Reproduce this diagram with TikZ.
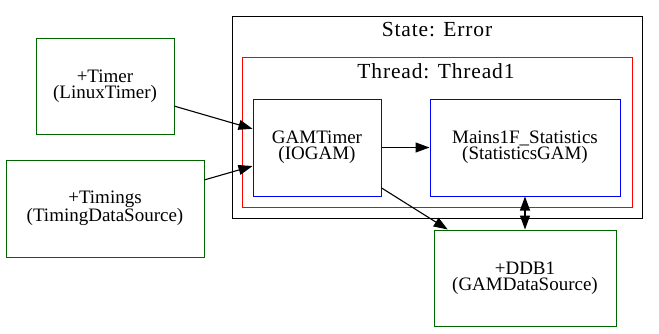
\documentclass[tikz,border=0pt]{standalone}
\usepackage{fontspec}
\setmainfont{Liberation Serif}
\newfontfamily\clusterfont[LetterSpace=4]{Liberation Serif}
\usetikzlibrary{arrows.meta}
\definecolor{dsgreen}{HTML}{006400}
\begin{document}
\begin{tikzpicture}[x=1pt, y=-1pt,
  label text/.style={font=\clusterfont\fontsize{21.5}{18}\selectfont, inner sep=0pt},
  box/.style={draw, rectangle, line width=1pt, align=center, inner sep=0pt,
    font=\fontsize{19}{16}\selectfont},
  datasource/.style={box, draw=dsgreen},
  gambox/.style={box, draw=blue},
  tip/.tip={Triangle[length=14pt, width=10pt]},
  flow/.style={line width=1.1pt, -tip},
  both/.style={line width=1.1pt, tip-tip}
]
\useasboundingbox (0,0) rectangle (659,333);

% state and thread clusters
\draw[line width=1pt, black] (232,16) rectangle (642,218);
\node[label text, anchor=base] (statelabel) at (437,36.5) {State: Error};
\draw[line width=1pt, red] (242,57) rectangle (632,207);
\node[label text, anchor=base] (threadlabel) at (436,78.5) {Thread: Thread1};

% GAMs inside the thread
\node[gambox, minimum width=128pt, minimum height=97pt] (gamtimer) at (317,147.5)
  {GAMTimer\\(IOGAM)};
\node[gambox, minimum width=190pt, minimum height=97pt] (mains) at (525,147.5)
  {Mains1F\_Statistics\\(StatisticsGAM)};

% data sources
\node[datasource, minimum width=138pt, minimum height=96pt] (timer) at (105,86)
  {+Timer\\(LinuxTimer)};
\node[datasource, minimum width=198pt, minimum height=97pt] (timings) at (105,208.5)
  {+Timings\\(TimingDataSource)};
\node[datasource, minimum width=182pt, minimum height=96pt] (ddb1) at (525,278)
  {+DDB1\\(GAMDataSource)};

% signal flow
\draw[flow] (timer) -- (gamtimer);
\draw[flow] (timings) -- (gamtimer);
\draw[flow] (gamtimer) -- (mains);
\draw[flow] (gamtimer) -- (ddb1);
\draw[both] (mains) -- (ddb1);
\end{tikzpicture}
\end{document}
